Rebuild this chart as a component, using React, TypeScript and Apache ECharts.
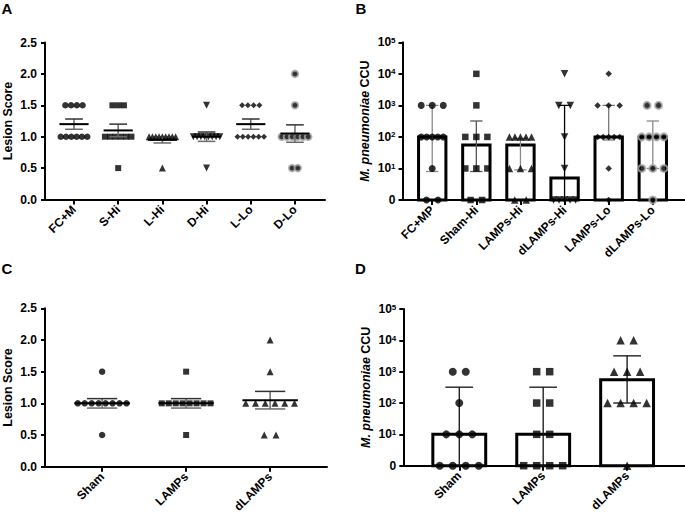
import React, { useEffect, useRef } from 'react';
import * as echarts from 'echarts';

// ---------- Data ----------
const groupsA = ['FC+M', 'S-Hi', 'L-Hi', 'D-Hi', 'L-Lo', 'D-Lo'];
const lesionA = [
  [1.5, 1.5, 1.5, 1.5, 1, 1, 1, 1, 1, 1],
  [1.5, 1.5, 1.5, 1, 1, 1, 1, 1, 1, 0.5],
  [1, 1, 1, 1, 1, 1, 1, 1, 1, 0.5],
  [1.5, 1, 1, 1, 1, 1, 1, 1, 1, 0.5],
  [1.5, 1.5, 1.5, 1.5, 1, 1, 1, 1, 1, 1],
  [2, 1.5, 1, 1, 1, 1, 1, 1, 0.5, 0.5],
];

const groupsB = ['FC+MP', 'Sham-Hi', 'LAMPs-Hi', 'dLAMPs-Hi', 'LAMPs-Lo', 'dLAMPs-Lo'];
const ccuB = [
  [1000, 1000, 1000, 100, 100, 100, 100, 100, 10, 0, 0],
  [10000, 1000, 100, 100, 100, 10, 10, 10, 0, 0],
  [100, 100, 100, 100, 100, 10, 10, 10, 0, 0],
  [10000, 1000, 1000, 100, 10, 0, 0, 0, 0, 0],
  [10000, 1000, 1000, 1000, 100, 100, 100, 100, 100, 10, 0],
  [1000, 1000, 100, 100, 100, 100, 10, 10, 10, 0],
];
const medianB = [100, 55, 55, 5, 100, 100];
const lowB = [8, 8, 9, 1, 80, 10];
const highB = [1000, 320, 90, 1000, 1000, 320];

const groupsC = ['Sham', 'LAMPs', 'dLAMPs'];
const lesionC = [
  [1.5, 1, 1, 1, 1, 1, 1, 1, 1, 0.5],
  [1.5, 1, 1, 1, 1, 1, 1, 1, 1, 0.5],
  [2, 1.5, 1, 1, 1, 1, 1, 1, 0.5, 0.5],
];

const groupsD = ['Sham', 'LAMPs', 'dLAMPs'];
const ccuD = [
  [1000, 1000, 100, 10, 10, 10, 0, 0, 0, 0],
  [1000, 1000, 100, 100, 10, 10, 0, 0, 0, 0],
  [10000, 10000, 1000, 1000, 1000, 100, 100, 100, 100, 0],
];
const medianD = [10, 10, 550];
const lowD = [1, 1, 100];
const highD = [320, 320, 3200];

// ---------- Styles ----------
const FONT = 'Liberation Sans, Arial, sans-serif';
const symbols6 = ['circle', 'rect', 'triangle', 'triangle', 'diamond', 'circle'];
const rotate6 = [0, 0, 0, 180, 0, 0];
const halo6 = [false, false, false, false, false, true];

function spread(values: number[], step: number, maxSpan: number): number[] {
  const counts = new Map<number, number>();
  values.forEach((v) => counts.set(v, (counts.get(v) || 0) + 1));
  const seen = new Map<number, number>();
  return values.map((v) => {
    const n = counts.get(v) as number;
    const k = seen.get(v) || 0;
    seen.set(v, k + 1);
    const s = n > 1 ? Math.min(step, maxSpan / (n - 1)) : 0;
    return (k - (n - 1) / 2) * s;
  });
}

function scatterSeries(
  valuesList: number[][], idx: number, step: number, maxSpan: number, isLog: boolean,
  symbols: string[], rotates: number[], halos: boolean[], size: number
) {
  return valuesList.map((vals, i) => {
    const off = spread(vals, step, maxSpan);
    const sym = symbols[i];
    let sz = size;
    if (sym === 'diamond') sz = size - 0.5;
    if (sym === 'rect') sz = size - 0.5;
    if (sym === 'triangle') sz = size + 0.5;
    return {
      type: 'scatter',
      xAxisIndex: idx,
      yAxisIndex: idx,
      z: 3,
      symbol: sym,
      symbolRotate: rotates[i],
      symbolSize: sz,
      itemStyle: halos[i]
        ? { color: '#000', borderColor: '#a8a8a8', borderWidth: 2 }
        : { color: '#000' },
      emphasis: { disabled: true },
      data: vals.map((v, k) => [i + off[k], isLog ? Math.max(v, 1) : v]),
    };
  });
}

function meanSemSeries(valuesList: number[][], idx: number, meanHalf: number, capHalf: number) {
  const data = valuesList.map((vals, i) => {
    const n = vals.length;
    const m = vals.reduce((a, b) => a + b, 0) / n;
    const sd = Math.sqrt(vals.reduce((a, b) => a + (b - m) * (b - m), 0) / (n - 1));
    const sem = sd / Math.sqrt(n);
    return [i, m, m - sem, m + sem];
  });
  return {
    type: 'custom',
    xAxisIndex: idx,
    yAxisIndex: idx,
    z: 5,
    encode: { x: 0, y: [1, 2, 3] },
    data,
    renderItem: (_p: any, api: any) => {
      const x = api.value(0), m = api.value(1), lo = api.value(2), hi = api.value(3);
      const ml = api.coord([x - meanHalf, m]), mr = api.coord([x + meanHalf, m]);
      const t = api.coord([x, hi]), b = api.coord([x, lo]);
      const tl = api.coord([x - capHalf, hi]), tr = api.coord([x + capHalf, hi]);
      const bl = api.coord([x - capHalf, lo]), br = api.coord([x + capHalf, lo]);
      const err = { stroke: '#6a6a6a', lineWidth: 1.5 };
      return {
        type: 'group',
        children: [
          { type: 'line', shape: { x1: t[0], y1: t[1], x2: b[0], y2: b[1] }, style: err },
          { type: 'line', shape: { x1: tl[0], y1: tl[1], x2: tr[0], y2: tr[1] }, style: { stroke: '#333', lineWidth: 1.5 } },
          { type: 'line', shape: { x1: bl[0], y1: bl[1], x2: br[0], y2: br[1] }, style: err },
          { type: 'line', shape: { x1: ml[0], y1: ml[1], x2: mr[0], y2: mr[1] }, style: { stroke: '#000', lineWidth: 2 } },
        ],
      };
    },
  };
}

function barSeries(med: number[], idx: number, half: number) {
  return {
    type: 'custom',
    xAxisIndex: idx,
    yAxisIndex: idx,
    z: 1,
    encode: { x: 0, y: 1 },
    data: med.map((v, i) => [i, v]),
    renderItem: (_p: any, api: any) => {
      const x = api.value(0), v = api.value(1);
      const p0 = api.coord([x - half, 1]);
      const p1 = api.coord([x + half, v]);
      return {
        type: 'rect',
        shape: { x: p0[0], y: p1[1], width: p1[0] - p0[0], height: p0[1] - p1[1] },
        style: { fill: '#fff', stroke: '#000', lineWidth: 3 },
      };
    },
  };
}

function errSeries(low: number[], high: number[], idx: number, capHalf: number, colors: string[]) {
  return {
    type: 'custom',
    xAxisIndex: idx,
    yAxisIndex: idx,
    z: 2,
    encode: { x: 0, y: [1, 2] },
    data: low.map((v, i) => [i, v, high[i]]),
    renderItem: (p: any, api: any) => {
      const x = api.value(0), lo = api.value(1), hi = api.value(2);
      const t = api.coord([x, hi]), b = api.coord([x, lo]);
      const tl = api.coord([x - capHalf, hi]), tr = api.coord([x + capHalf, hi]);
      const bl = api.coord([x - capHalf, lo]), br = api.coord([x + capHalf, lo]);
      const st = { stroke: colors[p.dataIndex], lineWidth: 1.3 };
      return {
        type: 'group',
        children: [
          { type: 'line', shape: { x1: t[0], y1: t[1], x2: b[0], y2: b[1] }, style: st },
          { type: 'line', shape: { x1: tl[0], y1: tl[1], x2: tr[0], y2: tr[1] }, style: st },
          { type: 'line', shape: { x1: bl[0], y1: bl[1], x2: br[0], y2: br[1] }, style: st },
        ],
      };
    },
  };
}

const axisLineStyle = { color: '#000', width: 2 };
const labelStyle = { color: '#000', fontSize: 12, fontWeight: 'bold' as const, fontFamily: FONT };

function catAxis(idx: number, names: string[], min: number, max: number) {
  const vals = names.map((_n, i) => i);
  return {
    gridIndex: idx,
    type: 'value',
    min,
    max,
    splitLine: { show: false },
    axisLine: { show: true, onZero: false, lineStyle: axisLineStyle },
    axisTick: { show: true, customValues: vals, length: 5, lineStyle: { color: '#000', width: 2 } },
    axisLabel: {
      ...labelStyle,
      customValues: vals,
      rotate: 45,
      margin: 8,
      formatter: (v: number) => names[Math.round(v)] ?? '',
    },
  };
}

function lesionAxis(idx: number) {
  return {
    gridIndex: idx,
    type: 'value',
    min: 0,
    max: 2.5,
    interval: 0.5,
    splitLine: { show: false },
    axisLine: { show: true, onZero: false, lineStyle: axisLineStyle },
    axisTick: { show: true, length: 4, lineStyle: { color: '#000', width: 2 } },
    axisLabel: { ...labelStyle, margin: 8, formatter: (v: number) => v.toFixed(1) },
    name: 'Lesion Score',
    nameLocation: 'middle',
    nameGap: 31,
    nameTextStyle: { ...labelStyle, fontSize: 12.5 },
  };
}

function logAxis(idx: number) {
  return {
    gridIndex: idx,
    type: 'log',
    logBase: 10,
    min: 1,
    max: 100000,
    splitLine: { show: false },
    minorTick: { show: false },
    axisLine: { show: true, onZero: false, lineStyle: axisLineStyle },
    axisTick: { show: true, length: 4, lineStyle: { color: '#000', width: 2 } },
    axisLabel: {
      ...labelStyle,
      margin: 7,
      formatter: (v: number) => (v <= 1 ? '0' : `10{s|${Math.round(Math.log10(v))}}`),
      rich: {
        s: { fontSize: 8, fontWeight: 'bold', fontFamily: FONT, color: '#000', verticalAlign: 'top', padding: [0, 0, 4, 0] },
      },
    },
    name: '{i|M. pneumoniae} {b|CCU}',
    nameLocation: 'middle',
    nameGap: 31,
    nameTextStyle: {
      rich: {
        i: { fontStyle: 'italic', fontWeight: 'bold', fontSize: 12.5, fontFamily: FONT, color: '#000' },
        b: { fontWeight: 'bold', fontSize: 12.5, fontFamily: FONT, color: '#000' },
      },
    },
  };
}

export default function App() {
  const ref = useRef<HTMLDivElement>(null);
  useEffect(() => {
    if (!ref.current) return;
    const chart = echarts.init(ref.current, undefined, { renderer: 'svg' });
    const letter = (t: string, x: number, y: number) => ({
      type: 'text',
      x,
      y,
      style: { text: t, fontSize: 15, fontWeight: 'bold', fontFamily: FONT, fill: '#000' },
    });
    chart.setOption({
      animation: false,
      backgroundColor: '#fff',
      textStyle: { fontFamily: FONT },
      grid: [
        { left: 45, top: 42.5, width: 280, height: 157 },
        { left: 402.5, top: 42.3, width: 283, height: 157.7 },
        { left: 45, top: 308.3, width: 282, height: 158.4 },
        { left: 403.3, top: 309, width: 282, height: 156.7 },
      ],
      xAxis: [
        catAxis(0, groupsA, -0.656, 5.68),
        catAxis(1, groupsB, -0.674, 5.73),
        catAxis(2, groupsC, -0.68, 2.677),
        catAxis(3, groupsD, -0.667, 2.69),
      ],
      yAxis: [lesionAxis(0), logAxis(1), lesionAxis(2), logAxis(3)],
      graphic: [
        letter('A', 1.5, 0.5),
        letter('B', 355.5, 0.5),
        letter('C', 1.5, 260.5),
        letter('D', 355, 260.5),
      ],
      series: [
        ...scatterSeries(lesionA, 0, 0.13, 0.6, false, symbols6, rotate6, halo6, 6.5),
        meanSemSeries(lesionA, 0, 0.33, 0.2),
        barSeries(medianB, 1, 0.31),
        errSeries(lowB, highB, 1, 0.14, ['#8a8a8a', '#555', '#8a8a8a', '#000', '#777', '#8a8a8a']),
        ...scatterSeries(ccuB, 1, 0.26, 0.5, true, symbols6, rotate6, halo6, 7),
        ...scatterSeries(lesionC, 2, 0.14, 0.58, false, symbols6, rotate6, halo6, 6.5),
        meanSemSeries(lesionC, 2, 0.33, 0.18),
        barSeries(medianD, 3, 0.315),
        errSeries(lowD, highD, 3, 0.165, ['#111', '#111', '#111']),
        ...scatterSeries(ccuD, 3, 0.155, 0.5, true, symbols6, rotate6, halo6, 8),
      ],
    });
    return () => chart.dispose();
  }, []);
  return (
    <div
      ref={ref}
      style={{ position: 'fixed', left: 0, top: 0, width: 685, height: 517, background: '#fff' }}
    />
  );
}
